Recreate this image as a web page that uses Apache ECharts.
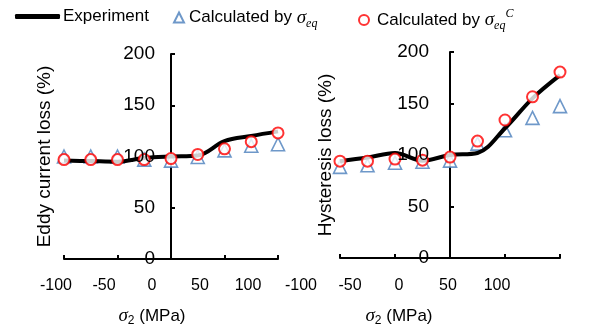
<!DOCTYPE html>
<html><head><meta charset="utf-8">
<script src="https://cdn.jsdelivr.net/npm/echarts@6/dist/echarts.min.js"></script>
<style>html,body{margin:0;padding:0;background:#fff}#c{width:592px;height:324px}</style>
</head><body><div id="c"></div>
<script>
const xValues = [-100, -75, -50, -25, 0, 25, 50, 75, 100];
const xTicks = [-100, -50, 0, 50, 100];
const yTicks = [0, 50, 100, 150, 200];
const eddyExp = [96, 95.5, 95, 98.5, 100, 101, 115, 120, 124.5];
const eddyEq = [100, 100, 100, 97, 96, 99.5, 106, 110.5, 112];
const eddyEqC = [97, 97, 97, 97, 98, 102, 107.5, 114.5, 123];
const hystExp = [94, 97.5, 102, 94.5, 100, 102, 126, 155, 177.5];
const hystEq = [88.5, 90, 92.5, 93.5, 94.5, 111, 124, 136, 147.5];
const hystEqC = [94, 94, 96, 95, 98, 113.5, 134, 156.5, 180.5];
const yNames = ['Eddy current loss (%)', 'Hysteresis loss (%)'];
const sNames = ['Experiment', 'Calculated by σeq', 'Calculated by σeqC'];

const SANS = '"Liberation Sans", Arial, sans-serif';
const SERIF = '"Liberation Serif", "Times New Roman", serif';
const BLUE = '#4A7EBB', RED = '#FF0000';

const pair = (xs, ys) => xs.map((x, i) => [x, ys[i]]);

const gb = {outerBoundsMode: 'none', containLabel: false};
const mainGrids = [
  Object.assign({left: 64, width: 214, top: 54, height: 205}, gb),
  Object.assign({left: 340, width: 220, top: 52, height: 206}, gb)
];
const labelGrids = [
  Object.assign({left: 56, width: 192, top: 259, height: 1}, gb),
  Object.assign({left: 301, width: 196, top: 259, height: 1}, gb)
];
// y axis sits where x = 0 (middle of each plot)
const yOffsets = [-107, -110];

const xMin = xTicks[0], xMax = xTicks[xTicks.length - 1], xInt = xTicks[1] - xTicks[0];
const yMin = yTicks[0], yMax = yTicks[yTicks.length - 1], yInt = yTicks[1] - yTicks[0];

const xAxes = [], yAxes = [], series = [];
[0, 1].forEach(p => {
  xAxes.push({
    type: 'value', gridIndex: p, min: xMin, max: xMax, interval: xInt,
    axisLine: {show: true, onZero: false, lineStyle: {color: '#000', width: 2}},
    axisTick: {show: true, inside: true, length: 4, lineStyle: {color: '#000', width: 2}},
    axisLabel: {show: false}, splitLine: {show: false}
  });
  yAxes.push({
    type: 'value', gridIndex: p, min: yMin, max: yMax, interval: yInt, position: 'left',
    offset: yOffsets[p],
    axisLine: {show: true, onZero: false, lineStyle: {color: '#000', width: 2}},
    axisTick: {show: true, inside: true, length: 4, lineStyle: {color: '#000', width: 2}},
    axisLabel: {show: false}, splitLine: {show: false},
    name: yNames[p], nameLocation: 'middle', nameRotate: 90, nameGap: p === 0 ? 117 : 115,
    nameMoveOverlap: false,
    nameTextStyle: {fontSize: 19, fontFamily: SANS, color: '#000'}
  });
});
// label-only y axes drawn above marks
[0, 1].forEach(p => {
  yAxes.push({
    type: 'value', gridIndex: p, min: yMin, max: yMax, interval: yInt, position: 'left', z: 10,
    offset: yOffsets[p],
    axisLine: {show: false, onZero: false}, axisTick: {show: false}, splitLine: {show: false},
    axisLabel: {show: true, fontSize: 19, fontFamily: SANS, color: '#000', margin: p === 0 ? 16 : 21}
  });
});
// label grids for x tick labels and axis names
[0, 1].forEach(p => {
  xAxes.push({
    type: 'value', gridIndex: 2 + p, min: xMin, max: xMax, interval: xInt,
    axisLine: {show: false}, axisTick: {show: false}, splitLine: {show: false},
    axisLabel: {show: true, fontSize: 16, fontFamily: SANS, color: '#000', margin: 18},
    name: '{s|σ}{sub|2}{t| (MPa)}', nameLocation: 'middle', nameGap: 45, nameMoveOverlap: false,
    nameTextStyle: {
      rich: {
        s: {fontFamily: SERIF, fontStyle: 'italic', fontSize: 19, color: '#000', lineHeight: 22},
        sub: {fontFamily: SANS, fontSize: 12, color: '#000', verticalAlign: 'bottom', lineHeight: 12},
        t: {fontFamily: SANS, fontSize: 17, color: '#000', lineHeight: 22}
      }
    }
  });
  yAxes.push({type: 'value', gridIndex: 2 + p, show: false, min: 0, max: 1});
});

const dataSets = [[eddyExp, eddyEq, eddyEqC], [hystExp, hystEq, hystEqC]];
dataSets.forEach((d, p) => {
  series.push({
    name: sNames[1], type: 'scatter', xAxisIndex: p, yAxisIndex: p, z: 2,
    symbol: 'triangle', symbolSize: 13,
    itemStyle: {color: '#fff', borderColor: BLUE, borderWidth: 1.6},
    data: pair(xValues, d[1])
  });
  series.push({
    name: sNames[0], type: 'line', xAxisIndex: p, yAxisIndex: p, z: 3,
    smooth: 0.35, symbol: 'none', lineStyle: {color: '#000', width: 4},
    itemStyle: {color: '#000'},
    data: pair(xValues, d[0])
  });
  series.push({
    name: sNames[2], type: 'scatter', xAxisIndex: p, yAxisIndex: p, z: 4,
    symbol: 'circle', symbolSize: 11,
    itemStyle: {color: '#fff', borderColor: RED, borderWidth: 2},
    data: pair(xValues, d[2])
  });
});

const legRich = {
  t: {fontFamily: SANS, fontSize: 17, color: '#000', lineHeight: 24},
  s: {fontFamily: SERIF, fontStyle: 'italic', fontSize: 19, color: '#000', lineHeight: 24},
  sub: {fontFamily: SERIF, fontStyle: 'italic', fontSize: 12, color: '#000', verticalAlign: 'bottom', lineHeight: 14},
  sup: {fontFamily: SERIF, fontStyle: 'italic', fontSize: 12, color: '#000', verticalAlign: 'top', lineHeight: 12}
};
const legendFmt = n => n === sNames[0] ? '{t|Experiment}'
  : n === sNames[1] ? '{t|Calculated by }{s|σ}{sub|eq}'
  : '{t|Calculated by }{s|σ}{sub|eq}{sup|C}';

const chart = echarts.init(document.getElementById('c'), null, {renderer: 'canvas'});
chart.setOption({
  animation: false,
  backgroundColor: '#fff',
  grid: mainGrids.concat(labelGrids),
  xAxis: xAxes,
  yAxis: yAxes,
  legend: [
    {data: [sNames[0]], left: 15, top: 8, padding: 0, itemWidth: 45, itemHeight: 5, icon: 'roundRect',
     itemStyle: {color: '#000', borderWidth: 0},
     formatter: legendFmt, textStyle: {rich: legRich, padding: [0, 0, 0, -2]}},
    {data: [sNames[1]], left: 173, top: 8, padding: 0, itemWidth: 10, itemHeight: 10,
     formatter: legendFmt, textStyle: {rich: legRich, padding: [0, 0, 0, 0]}},
    {data: [sNames[2]], left: 358, top: 8, padding: 0, itemWidth: 10, itemHeight: 10,
     formatter: legendFmt, textStyle: {rich: legRich, padding: [0, 0, 0, 3]}}
  ],
  series: series
});
</script></body></html>
